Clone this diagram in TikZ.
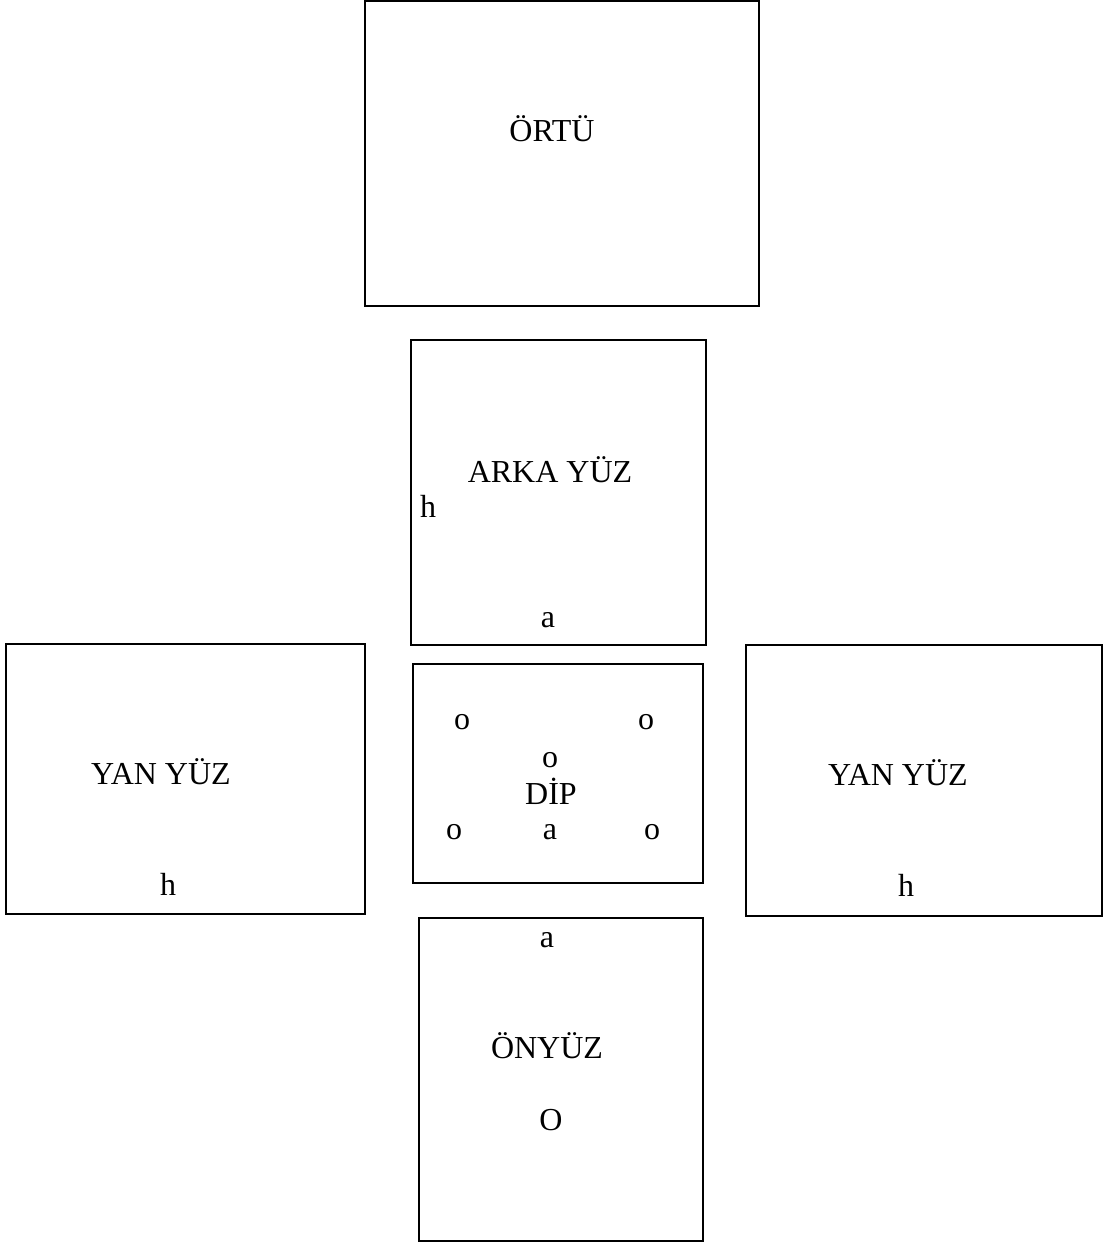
\documentclass[tikz,border=0pt]{standalone}
\usepackage{fontspec}
\setmainfont{Liberation Serif}

\begin{document}
\begin{tikzpicture}[x=1pt,y=-1pt,font=\fontsize{32}{38}\selectfont,
  face/.style={draw=black,line width=2pt,rectangle,inner sep=0pt,outer sep=0pt},
  lbl/.style={anchor=base,inner sep=0pt}]
  \useasboundingbox (0,0) rectangle (1103,1242);
  % box faces of the unfolded carton
  \node[face,minimum width=394pt,minimum height=305pt] (ortu) at (562,153.5) {};
  \node[face,minimum width=295pt,minimum height=305pt] (arka) at (558.5,492.5) {};
  \node[face,minimum width=359pt,minimum height=270pt] (yansol) at (185.5,779) {};
  \node[face,minimum width=290pt,minimum height=219pt] (dip) at (558,773.5) {};
  \node[face,minimum width=356pt,minimum height=271pt] (yansag) at (924,780.5) {};
  \node[face,minimum width=284pt,minimum height=323pt] (onyuz) at (561,1079.5) {};
  % labels
  \node[lbl] (ortuT) at (552,141) {ÖRTÜ};
  \node[lbl] (arkaT) at (550,482) {ARKA YÜZ};
  \node[lbl] (arkaH) at (428,517) {h};
  \node[lbl] (arkaA) at (548,627) {a};
  \node[lbl] (yansolT) at (161,784) {YAN YÜZ};
  \node[lbl] (yansolH) at (168,895) {h};
  \node[lbl] (dipO1) at (462,729) {o};
  \node[lbl] (dipO2) at (646,729) {o};
  \node[lbl] (dipO3) at (550,767) {o};
  \node[lbl] (dipT) at (551,804) {DİP};
  \node[lbl] (dipO4) at (454,839) {o};
  \node[lbl] (dipA) at (550,839) {a};
  \node[lbl] (dipO5) at (652,839) {o};
  \node[lbl] (yansagT) at (898,785) {YAN YÜZ};
  \node[lbl] (yansagH) at (906,896) {h};
  \node[lbl] (onyuzA) at (547,947) {a};
  \node[lbl] (onyuzT) at (547,1058) {ÖNYÜZ};
  \node[lbl] (onyuzO) at (551,1130) {O};
\end{tikzpicture}
\end{document}
